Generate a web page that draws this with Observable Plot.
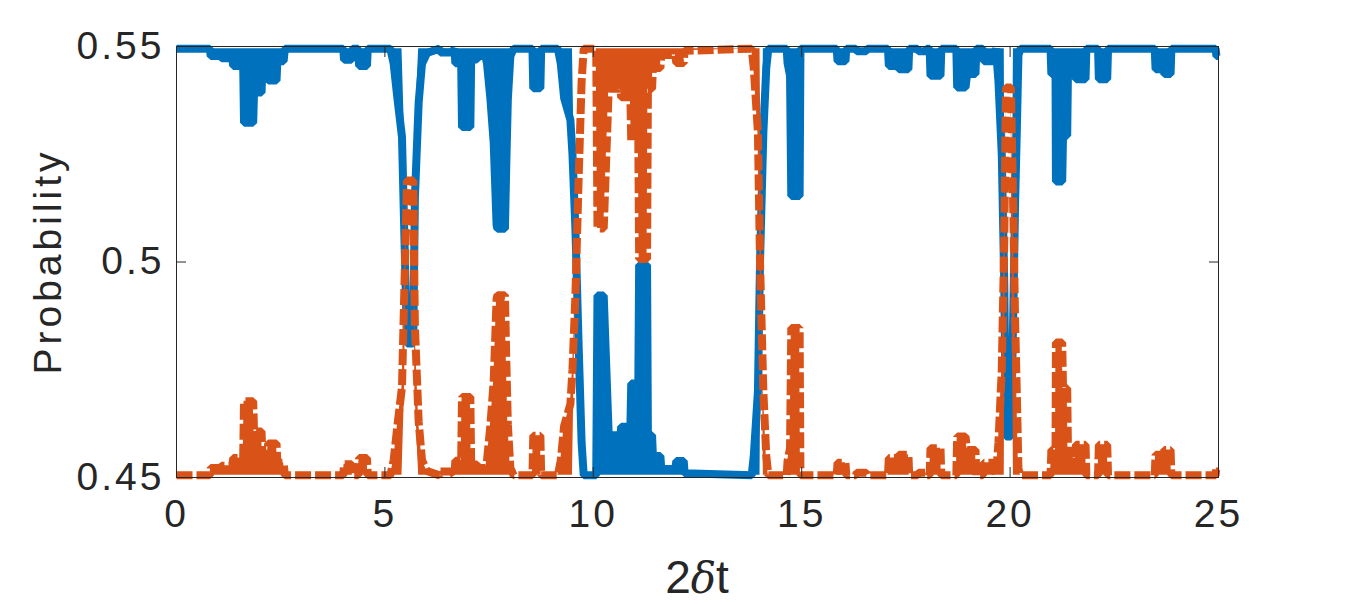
<!DOCTYPE html>
<html><head><meta charset="utf-8">
<script src="https://cdn.jsdelivr.net/npm/d3@7"></script>
<script src="https://cdn.jsdelivr.net/npm/@observablehq/plot@0.6"></script>
<style>
html,body{margin:0;padding:0;background:#fff;}
#chart{width:1346px;height:604px;overflow:hidden;}
</style></head><body><div id="chart"></div>
<script>
// time axis (2δt)
const t = [0,0.80,0.82,1.06,1.08,1.34,1.36,1.60,1.62,1.84,1.86,2.04,2.06,2.18,2.20,2.40,2.42,2.57,2.60,
4.00,4.02,4.20,4.22,4.36,4.38,4.57,4.59,
5.13,5.21,5.30,5.41,5.47,5.53,5.68,5.72,5.81,5.89,6.01,6.31,6.33,6.61,6.67,6.69,6.83,6.85,7.05,7.07,7.21,7.23,7.41,
7.45,7.53,7.61,7.68,7.70,7.88,7.91,7.95,8.01,8.09,8.54,8.56,8.73,8.75,
9.15,9.22,9.30,9.45,9.50,9.57,9.65,9.72,9.77,10.07,10.10,10.25,10.37,10.65,10.67,10.89,10.91,11.08,11.10,11.29,11.31,11.41,11.43,11.61,11.63,11.97,11.99,12.17,12.19,13.80,
13.85,13.95,14.00,14.08,14.15,14.20,14.64,14.66,14.72,14.75,14.95,14.97,15.84,15.86,16.05,16.07,16.30,16.32,16.55,16.57,
17.07,17.09,17.32,17.33,17.56,17.58,17.78,17.80,17.98,18.00,18.07,18.09,18.33,18.35,18.71,18.73,18.93,18.97,19.17,19.19,19.35,19.37,19.58,
19.66,19.72,19.80,19.86,19.90,20.02,20.08,20.12,20.16,20.20,20.25,20.97,20.99,21.09,21.10,21.25,21.27,21.37,21.39,21.57,21.58,21.81,21.83,
22.11,22.13,22.33,22.35,23.47,23.49,23.69,23.70,23.85,23.87,24.93,24.95,25.00];

// first probability (solid blue): envelope of the trace
const blue = [0.5495,0.5495,0.5478,0.5478,0.5473,0.5473,0.5455,0.5455,0.5323,0.5323,0.5393,0.5393,0.5445,0.5445,0.5421,0.5421,0.5466,0.5466,0.5495,
0.5495,0.5469,0.5469,0.5495,0.5495,0.5455,0.5455,0.5495,
0.5495,0.5460,0.5380,0.5290,0.5050,0.4811,0.4811,0.5150,0.5370,0.5460,0.5485,0.5495,0.5486,0.5486,0.5495,0.5461,0.5461,0.5313,0.5313,0.5470,0.5470,0.5478,0.5478,
0.5460,0.5380,0.5277,0.5085,0.5077,0.5077,0.5216,0.5378,0.5478,0.5495,0.5495,0.5403,0.5403,0.5495,
0.5495,0.5460,0.5380,0.5330,0.5250,0.5080,0.4800,0.4580,0.4505,0.4505,0.4922,0.4922,0.4598,0.4598,0.4618,0.4618,0.4718,0.4718,0.4993,0.4993,0.4598,0.4598,0.4550,0.4550,0.4520,0.4520,0.4538,0.4538,0.4510,0.4505,
0.4550,0.4700,0.5000,0.5300,0.5450,0.5495,0.5495,0.5462,0.5432,0.5153,0.5153,0.5495,0.5495,0.5466,0.5466,0.5495,0.5495,0.5489,0.5489,0.5495,
0.5495,0.5455,0.5455,0.5447,0.5447,0.5495,0.5495,0.5489,0.5489,0.5495,0.5495,0.5432,0.5432,0.5495,0.5495,0.5405,0.5405,0.5436,0.5436,0.5495,0.5495,0.5466,0.5466,
0.5495,0.5420,0.5250,0.4950,0.4595,0.4595,0.4900,0.5137,0.5300,0.5480,0.5495,0.5495,0.5436,0.5436,0.5187,0.5187,0.5293,0.5293,0.5455,0.5455,0.5424,0.5424,0.5495,
0.5495,0.5424,0.5424,0.5495,0.5495,0.5447,0.5447,0.5436,0.5436,0.5495,0.5495,0.5478,0.5478];

// other edge of the blue oscillation band (filled region)
const blueBand = [0.5495,0.5495,0.5495,0.5495,0.5495,0.5495,0.5495,0.5495,0.5495,0.5495,0.5495,0.5495,0.5495,0.5495,0.5495,0.5495,0.5495,0.5495,0.5495,
0.5495,0.5495,0.5495,0.5495,0.5495,0.5495,0.5495,0.5495,
0.5495,0.5495,0.5495,0.5495,0.5300,0.4811,0.4811,0.5300,0.5495,0.5495,0.5495,0.5495,0.5495,0.5495,0.5495,0.5495,0.5495,0.5495,0.5495,0.5495,0.5495,0.5495,0.5495,
0.5495,0.5495,0.5495,0.5495,0.5495,0.5495,0.5495,0.5495,0.5495,0.5495,0.5495,0.5495,0.5495,0.5495,
0.5495,0.5495,0.5495,0.5495,0.5495,0.5080,0.4800,0.4580,0.4505,0.4505,0.4505,0.4505,0.4505,0.4505,0.4505,0.4505,0.4505,0.4505,0.4505,0.4505,0.4505,0.4505,0.4505,0.4505,0.4505,0.4505,0.4505,0.4505,0.4505,0.4505,
0.4505,0.4505,0.4505,0.5495,0.5495,0.5495,0.5495,0.5495,0.5495,0.5495,0.5495,0.5495,0.5495,0.5495,0.5495,0.5495,0.5495,0.5495,0.5495,0.5495,
0.5495,0.5495,0.5495,0.5495,0.5495,0.5495,0.5495,0.5495,0.5495,0.5495,0.5495,0.5495,0.5495,0.5495,0.5495,0.5495,0.5495,0.5495,0.5495,0.5495,0.5495,0.5495,0.5495,
0.5495,0.5495,0.5495,0.5495,0.4595,0.4595,0.5495,0.5495,0.5495,0.5495,0.5495,0.5495,0.5495,0.5495,0.5495,0.5495,0.5495,0.5495,0.5495,0.5495,0.5495,0.5495,0.5495,
0.5495,0.5495,0.5495,0.5495,0.5495,0.5495,0.5495,0.5495,0.5495,0.5495,0.5495,0.5495,0.5495];

// second probability (dashed orange): envelope of the trace
const orange = [0.4505,0.4505,0.4522,0.4522,0.4527,0.4527,0.4545,0.4545,0.4677,0.4677,0.4607,0.4607,0.4555,0.4555,0.4579,0.4579,0.4534,0.4534,0.4505,
0.4505,0.4531,0.4531,0.4505,0.4505,0.4545,0.4545,0.4505,
0.4505,0.4540,0.4620,0.4710,0.4950,0.5189,0.5189,0.4850,0.4630,0.4540,0.4515,0.4505,0.4514,0.4514,0.4505,0.4539,0.4539,0.4687,0.4687,0.4530,0.4530,0.4522,0.4522,
0.4540,0.4620,0.4723,0.4915,0.4923,0.4923,0.4784,0.4622,0.4522,0.4505,0.4505,0.4597,0.4597,0.4505,
0.4505,0.4540,0.4620,0.4670,0.4750,0.4920,0.5200,0.5420,0.5495,0.5495,0.5078,0.5078,0.5402,0.5402,0.5382,0.5382,0.5282,0.5282,0.5007,0.5007,0.5402,0.5402,0.5450,0.5450,0.5480,0.5480,0.5462,0.5462,0.5490,0.5495,
0.5450,0.5300,0.5000,0.4700,0.4550,0.4505,0.4505,0.4538,0.4568,0.4847,0.4847,0.4505,0.4505,0.4534,0.4534,0.4505,0.4505,0.4511,0.4511,0.4505,
0.4505,0.4545,0.4545,0.4553,0.4553,0.4505,0.4505,0.4511,0.4511,0.4505,0.4505,0.4568,0.4568,0.4505,0.4505,0.4595,0.4595,0.4564,0.4564,0.4505,0.4505,0.4534,0.4534,
0.4505,0.4580,0.4750,0.5050,0.5405,0.5405,0.5100,0.4863,0.4700,0.4520,0.4505,0.4505,0.4564,0.4564,0.4813,0.4813,0.4707,0.4707,0.4545,0.4545,0.4576,0.4576,0.4505,
0.4505,0.4576,0.4576,0.4505,0.4505,0.4553,0.4553,0.4564,0.4564,0.4505,0.4505,0.4522,0.4522];

// other edge of the orange oscillation band (filled region)
const orangeBand = [0.4505,0.4505,0.4505,0.4505,0.4505,0.4505,0.4505,0.4505,0.4505,0.4505,0.4505,0.4505,0.4505,0.4505,0.4505,0.4505,0.4505,0.4505,0.4505,
0.4505,0.4505,0.4505,0.4505,0.4505,0.4505,0.4505,0.4505,
0.4505,0.4505,0.4505,0.4505,0.4700,0.5189,0.5189,0.4700,0.4505,0.4505,0.4505,0.4505,0.4505,0.4505,0.4505,0.4505,0.4505,0.4505,0.4505,0.4505,0.4505,0.4505,0.4505,
0.4505,0.4505,0.4505,0.4505,0.4505,0.4505,0.4505,0.4505,0.4505,0.4505,0.4505,0.4505,0.4505,0.4505,
0.4505,0.4505,0.4505,0.4505,0.4505,0.4920,0.5200,0.5420,0.5495,0.5495,0.5495,0.5495,0.5495,0.5495,0.5495,0.5495,0.5495,0.5495,0.5495,0.5495,0.5495,0.5495,0.5495,0.5495,0.5495,0.5495,0.5495,0.5495,0.5495,0.5495,
0.5495,0.5495,0.5495,0.4505,0.4505,0.4505,0.4505,0.4505,0.4505,0.4505,0.4505,0.4505,0.4505,0.4505,0.4505,0.4505,0.4505,0.4505,0.4505,0.4505,
0.4505,0.4505,0.4505,0.4505,0.4505,0.4505,0.4505,0.4505,0.4505,0.4505,0.4505,0.4505,0.4505,0.4505,0.4505,0.4505,0.4505,0.4505,0.4505,0.4505,0.4505,0.4505,0.4505,
0.4505,0.4505,0.4505,0.4505,0.5405,0.5405,0.4505,0.4505,0.4505,0.4505,0.4505,0.4505,0.4505,0.4505,0.4505,0.4505,0.4505,0.4505,0.4505,0.4505,0.4505,0.4505,0.4505,
0.4505,0.4505,0.4505,0.4505,0.4505,0.4505,0.4505,0.4505,0.4505,0.4505,0.4505,0.4505,0.4505];

const xTicks = [0, 5, 10, 15, 20, 25];
const yTicks = [0.45, 0.5, 0.55];
const yTickLabels = ["0.45", "0.5", "0.55"];
const yLabel = "Probability";

const rows = t.map((x, i) => ({x, blue: blue[i], blueBand: blueBand[i], orange: orange[i], orangeBand: orangeBand[i]}));
const font = "'Liberation Sans', Arial, Helvetica, sans-serif";
const ink = "#262626";
const fs = 39;
const BLUE = "#0072BD", ORANGE = "#D95319";

const plot = Plot.plot({
  width: 1346, height: 604,
  marginLeft: 176, marginRight: 128, marginTop: 46, marginBottom: 127,
  style: {fontFamily: font, background: "#fff", color: ink, overflow: "visible", letterSpacing: "3px"},
  x: {domain: [0, 25]},
  y: {domain: [0.45, 0.55]},
  marks: [
    Plot.area(rows, {x1: "x", y1: "blueBand", y2: "blue", fill: BLUE}),
    Plot.line(rows, {x: "x", y: "blue", stroke: BLUE, strokeWidth: 8, strokeLinejoin: "miter", strokeLinecap: "butt"}),
    Plot.area(rows, {x1: "x", y1: "orangeBand", y2: "orange", fill: ORANGE}),
    Plot.line(rows, {x: "x", y: "orange", stroke: ORANGE, strokeWidth: 8, strokeDasharray: "16,4", strokeLinejoin: "miter", strokeLinecap: "butt"}),
    Plot.frame({stroke: ink, strokeWidth: 1}),
    Plot.axisX(xTicks, {anchor: "bottom", tickSize: 0, tickPadding: 22, fontSize: fs, label: null, tickFormat: d => String(d)}),
    Plot.axisX(xTicks, {anchor: "bottom", tickSize: -10, tickFormat: () => "", label: null}),
    Plot.axisX(xTicks, {anchor: "top", tickSize: -10, tickFormat: () => "", label: null}),
    Plot.axisY(yTicks, {anchor: "left", tickSize: 0, tickPadding: 12, fontSize: fs, label: null, tickFormat: d => yTickLabels[yTicks.indexOf(d)]}),
    Plot.axisY(yTicks, {anchor: "left", tickSize: -10, tickFormat: () => "", label: null}),
    Plot.axisY(yTicks, {anchor: "right", tickSize: -10, tickFormat: () => "", label: null})
  ]
});

const svg = d3.select(plot);
const xr = plot.scale("x").range;
const yr = plot.scale("y").range;
// x label: 2δt with italic delta
const xl = svg.append("text")
  .attr("x", (xr[0] + xr[1]) / 2)
  .attr("y", 593)
  .attr("text-anchor", "middle")
  .attr("font-size", 46)
  .attr("fill", ink)
  .style("letter-spacing", "0px");
xl.append("tspan").text("2");
xl.append("tspan").attr("font-style", "italic").attr("font-family", "'DejaVu Serif', 'Liberation Serif', serif").attr("font-size", 42).text("δ");
xl.append("tspan").text("t");
// y label
svg.append("text")
  .attr("transform", `translate(61,${(yr[0] + yr[1]) / 2}) rotate(-90)`)
  .attr("text-anchor", "middle")
  .attr("font-size", fs)
  .attr("fill", ink)
  .style("letter-spacing", "4px")
  .text(yLabel);

document.getElementById("chart").appendChild(plot);
</script>
</body></html>
